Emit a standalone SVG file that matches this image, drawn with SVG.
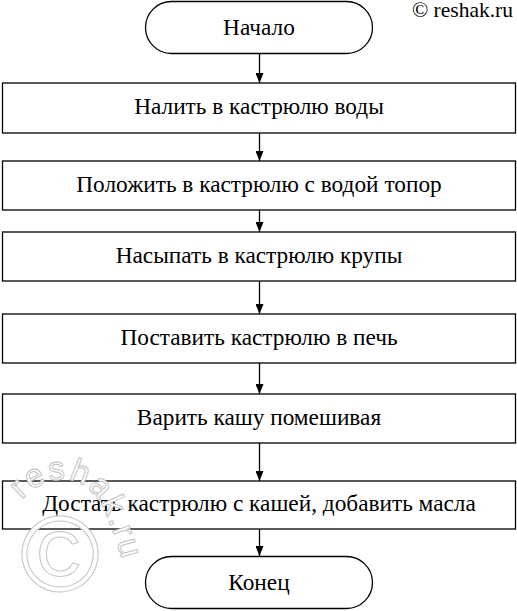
<svg xmlns="http://www.w3.org/2000/svg" width="517" height="611" viewBox="0 0 517 611">
<style>
.box{fill:#fff;stroke:#000;stroke-width:1.3}
.lbl{font-family:"Liberation Serif","Times New Roman",serif;font-size:23.3px;fill:#000;text-anchor:middle}
.conn line{stroke:#000;stroke-width:1.3}
.wm{font-family:"Liberation Sans",Arial,sans-serif;fill:#fff;stroke:#c4c4c4;stroke-width:1}
</style>
<defs>
<marker id="ah" markerWidth="10" markerHeight="8" refX="10" refY="4" orient="auto" markerUnits="userSpaceOnUse">
<path d="M0,0 L10,4 L0,8 Z" fill="#000"/>
</marker>
<path id="arc" d="M22,500 C50,468 90,474 106,514 C116,539 123,556 126,590"/>
</defs>
<rect width="517" height="611" fill="#fff"/>
<g id="connectors" class="conn">
<line x1="259.5" y1="54" x2="259.5" y2="83" marker-end="url(#ah)"/>
<line x1="259.5" y1="133" x2="259.5" y2="161" marker-end="url(#ah)"/>
<line x1="259.5" y1="210" x2="259.5" y2="232" marker-end="url(#ah)"/>
<line x1="259.5" y1="281" x2="259.5" y2="314" marker-end="url(#ah)"/>
<line x1="259.5" y1="363" x2="259.5" y2="394" marker-end="url(#ah)"/>
<line x1="259.5" y1="443" x2="259.5" y2="481" marker-end="url(#ah)"/>
<line x1="259.5" y1="529" x2="259.5" y2="556" marker-end="url(#ah)"/>
</g>
<g id="start">
<rect class="box" x="145.5" y="1.5" width="227" height="52" rx="26" ry="26"/>
<text class="lbl" x="259" y="35">Начало</text>
</g>
<g id="step1">
<rect class="box" x="2.5" y="83" width="513" height="50"/>
<text class="lbl" x="259" y="114">Налить в кастрюлю воды</text>
</g>
<g id="step2">
<rect class="box" x="2.5" y="161" width="513" height="49"/>
<text class="lbl" x="259" y="192">Положить в кастрюлю с водой топор</text>
</g>
<g id="step3">
<rect class="box" x="2.5" y="232" width="513" height="49"/>
<text class="lbl" x="259" y="263">Насыпать в кастрюлю крупы</text>
</g>
<g id="step4">
<rect class="box" x="2.5" y="314" width="513" height="49"/>
<text class="lbl" x="259" y="345">Поставить кастрюлю в печь</text>
</g>
<g id="step5">
<rect class="box" x="2.5" y="394" width="513" height="49"/>
<text class="lbl" x="259" y="425">Варить кашу помешивая</text>
</g>
<g id="step6">
<rect class="box" x="2.5" y="481" width="513" height="48"/>
<text class="lbl" x="259" y="511">Достать кастрюлю с кашей, добавить масла</text>
</g>
<g id="end">
<rect class="box" x="145.5" y="556.5" width="227" height="52" rx="26" ry="26"/>
<text class="lbl" x="259" y="590">Конец</text>
</g>
<text x="513" y="17" font-family="Liberation Serif,'Times New Roman',serif" font-size="21.5px" text-anchor="end" fill="#000">© reshak.ru</text>
<g id="watermark">
<text class="wm" x="60" y="591" font-size="108px" text-anchor="middle">©</text>
<text class="wm" font-size="33px" letter-spacing="2"><textPath href="#arc">reshak.ru</textPath></text>
</g>
</svg>
